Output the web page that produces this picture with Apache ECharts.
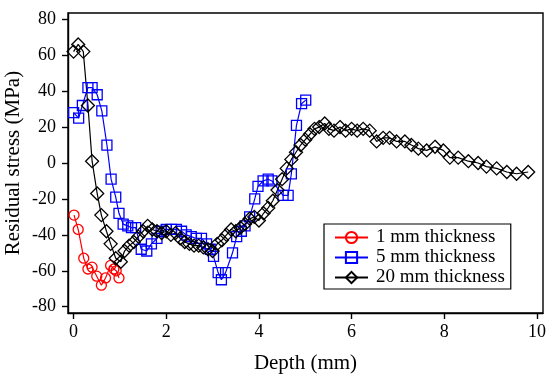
<!DOCTYPE html>
<html>
<head>
<meta charset="utf-8">
<script src="https://cdn.jsdelivr.net/npm/echarts@6/dist/echarts.min.js"></script>
<style>
html,body{margin:0;padding:0;background:#fff;}
#c{width:550px;height:379px;}
</style>
</head>
<body>
<div id="c"></div>
<script>
const xTicks = [0, 2, 4, 6, 8, 10];
const yTicks = [-80, -60, -40, -20, 0, 20, 40, 60, 80];

const seriesNames = ['1 mm thickness', '5 mm thickness', '20 mm thickness'];

const depth1 = [0.01, 0.10, 0.22, 0.31, 0.40, 0.50, 0.60, 0.69, 0.80, 0.87, 0.92, 0.98];
const stress1 = [-29, -37, -53, -59, -58, -63, -68, -64, -57, -59, -60, -64];

const depth5 = [0.0, 0.11, 0.19, 0.31, 0.40, 0.51, 0.61, 0.72, 0.81, 0.91, 0.98, 1.07, 1.17, 1.25, 1.34, 1.46, 1.58, 1.68, 1.80, 1.89, 2.00, 2.11, 2.22, 2.33, 2.43, 2.54, 2.65, 2.76, 2.87, 2.95, 3.02, 3.12, 3.19, 3.28, 3.43, 3.52, 3.62, 3.70, 3.80, 3.91, 3.98, 4.09, 4.20, 4.28, 4.52, 4.63, 4.70, 4.81, 4.92, 5.01];
const stress5 = [28, 25, 32, 42, 42, 38, 29, 10, -9, -19, -28, -34, -35, -36, -36, -48, -49, -45, -42, -38, -37, -37, -37, -38, -40, -41, -42, -42, -45, -48, -52, -61, -65, -61, -50, -41, -38, -35, -30, -20, -13, -10, -9, -10, -18, -18, -6, 21, 33, 35];

const depth20 = [0.0, 0.10, 0.21, 0.31, 0.40, 0.51, 0.60, 0.71, 0.80, 0.91, 1.02, 1.10, 1.20, 1.30, 1.40, 1.50, 1.60, 1.70, 1.80, 1.90, 2.00, 2.10, 2.20, 2.30, 2.40, 2.50, 2.60, 2.70, 2.80, 2.90, 3.00, 3.10, 3.20, 3.30, 3.40, 3.50, 3.60, 3.70, 3.80, 3.90, 4.00, 4.10, 4.20, 4.30, 4.40, 4.50, 4.60, 4.70, 4.80, 4.90, 5.00, 5.10, 5.20, 5.30, 5.42, 5.51, 5.62, 5.75, 5.87, 6.00, 6.12, 6.25, 6.39, 6.54, 6.68, 6.82, 6.97, 7.15, 7.29, 7.44, 7.62, 7.80, 7.98, 8.12, 8.30, 8.52, 8.73, 8.91, 9.13, 9.35, 9.56, 9.81];
const stress20 = [62, 66, 62, 32, 1, -17, -29, -38, -45, -53, -55, -49, -46, -44, -41, -38, -35, -37, -38, -39, -38, -40, -39, -42, -44, -45, -46, -46, -47, -48, -49, -45, -43, -40, -37, -38, -36, -34, -31, -30, -32, -28, -25, -21, -15, -9, -3, 2, 6, 10, 13, 16, 19, 20, 22, 19, 18, 20, 18, 19, 18, 19, 18, 12, 14, 14, 12, 12, 10, 8, 7, 9, 7, 3, 3, 1, 0, -2, -3, -5, -6, -5];

function pairs(xs, ys) { return xs.map((x, i) => [x, ys[i]]); }

const FONT = '"Liberation Serif", "Times New Roman", serif';
const chart = echarts.init(document.getElementById('c'), null, {renderer: 'canvas'});
chart.setOption({
  animation: false,
  backgroundColor: '#fff',
  textStyle: {fontFamily: FONT},
  grid: {left: 68, top: 13, right: 7, bottom: 66, show: true, borderColor: '#000', borderWidth: 1.4, containLabel: false, outerBoundsMode: 'none'},
  xAxis: {
    type: 'value', min: -0.12, max: 10.13,
    name: 'Depth (mm)', nameLocation: 'middle', nameGap: 40, nameMoveOverlap: false,
    nameTextStyle: {fontFamily: FONT, fontSize: 21, color: '#000'},
    axisLine: {show: true, onZero: false, lineStyle: {color: '#000', width: 1.4}},
    axisTick: {show: true, length: 6, lineStyle: {color: '#000', width: 1.4}, customValues: xTicks},
    axisLabel: {fontFamily: FONT, fontSize: 18, color: '#000', margin: 10, customValues: xTicks},
    splitLine: {show: false}
  },
  yAxis: {
    type: 'value', min: -83.5, max: 83.5,
    name: 'Residual stress (MPa)', nameLocation: 'middle', nameGap: 44, nameMoveOverlap: false,
    nameTextStyle: {fontFamily: FONT, fontSize: 21, color: '#000'},
    axisLine: {show: true, onZero: false, lineStyle: {color: '#000', width: 1.4}},
    axisTick: {show: true, length: 6, lineStyle: {color: '#000', width: 1.4}, customValues: yTicks},
    axisLabel: {fontFamily: FONT, fontSize: 18, color: '#000', margin: 12, customValues: yTicks},
    splitLine: {show: false}
  },
  legend: {
    left: 324, top: 224, orient: 'vertical',
    borderColor: '#000', borderWidth: 1.2, padding: [4, 6, 2, 10],
    itemWidth: 33, itemHeight: 14, itemGap: 1,
    textStyle: {fontFamily: FONT, fontSize: 19, color: '#000', padding: [0, 0, 0, 3]},
    data: seriesNames
  },
  series: [
    {name: seriesNames[0], type: 'line', data: pairs(depth1, stress1), symbol: 'circle', symbolSize: 10,
     itemStyle: {color: 'rgba(255,255,255,0)', borderColor: '#ff0000', borderWidth: 1.3},
     lineStyle: {color: '#ff0000', width: 1.2}, color: '#ff0000'},
    {name: seriesNames[1], type: 'line', data: pairs(depth5, stress5), symbol: 'rect', symbolSize: 10,
     itemStyle: {color: 'rgba(255,255,255,0)', borderColor: '#0000ff', borderWidth: 1.3},
     lineStyle: {color: '#0000ff', width: 1.2}, color: '#0000ff'},
    {name: seriesNames[2], type: 'line', data: pairs(depth20, stress20), symbol: 'diamond', symbolSize: 13,
     itemStyle: {color: 'rgba(255,255,255,0)', borderColor: '#000', borderWidth: 1.3},
     lineStyle: {color: '#000', width: 1.2}, color: '#000'}
  ]
});
</script>
</body>
</html>
